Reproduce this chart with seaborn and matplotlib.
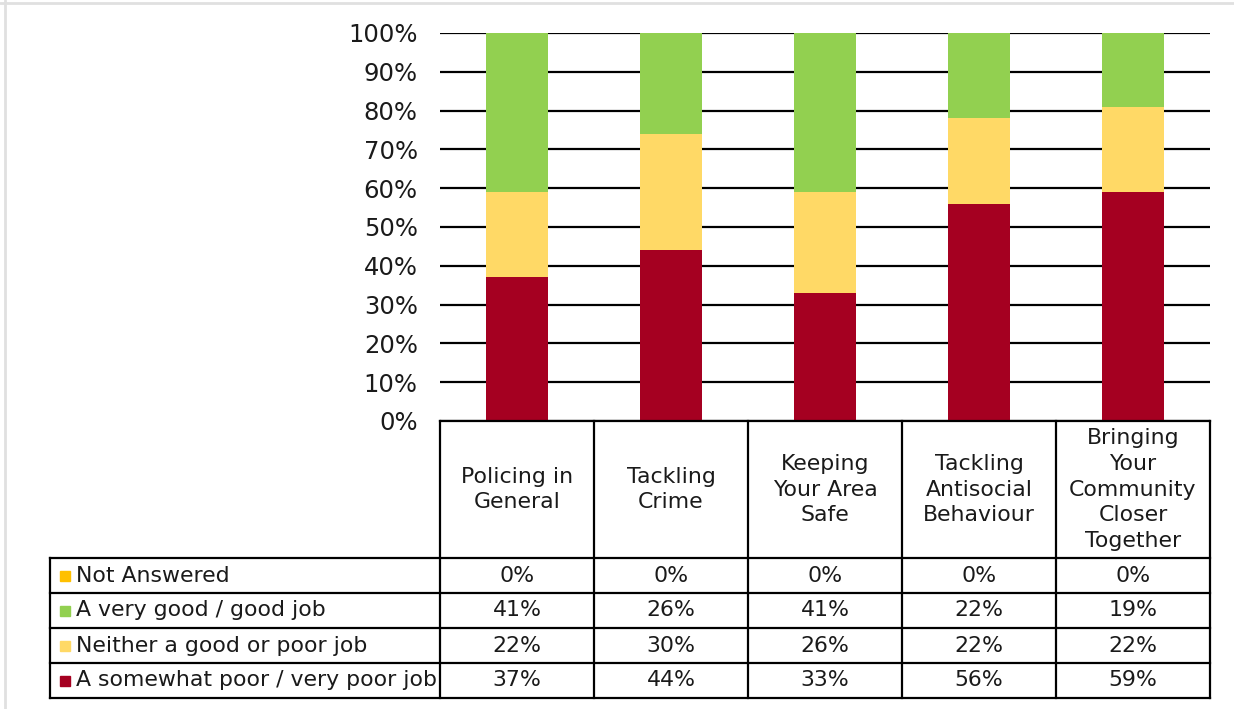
import matplotlib.pyplot as plt
import matplotlib.transforms as mtransforms
from matplotlib.lines import Line2D
import pandas as pd
import seaborn as sns

# data (percent)
categories = ["Policing in General", "Tackling Crime", "Keeping Your Area Safe",
              "Tackling Antisocial Behaviour", "Bringing Your Community Closer Together"]
header_labels = ["Policing in\nGeneral", "Tackling\nCrime", "Keeping\nYour Area\nSafe",
                 "Tackling\nAntisocial\nBehaviour", "Bringing\nYour\nCommunity\nCloser\nTogether"]
poor = [37, 44, 33, 56, 59]
neither = [22, 30, 26, 22, 22]
good = [41, 26, 41, 22, 19]
not_answered = [0, 0, 0, 0, 0]

# stacking order, bottom to top
series_names = ["A somewhat poor / very poor job", "Neither a good or poor job",
                "A very good / good job", "Not Answered"]
series_values = [poor, neither, good, not_answered]
series_colors = ["#A50021", "#FFD966", "#92D050", "#FFC000"]

sns.set_style("white")
plt.rcParams["font.family"] = ["DejaVu Sans"]

W, H = 1234, 709
fig = plt.figure(figsize=(W / 100, H / 100), dpi=100)
ax_l, ax_r, ax_t, ax_b = 440, 1210, 33, 421
ax = fig.add_axes([ax_l / W, 1 - ax_b / H, (ax_r - ax_l) / W, (ax_b - ax_t) / H])

# cumulative tops, drawn top layer first so lower layers cover them
df = pd.DataFrame({"category": categories})
running = [0] * len(categories)
tops = []
for vals in series_values:
    running = [r + v for r, v in zip(running, vals)]
    tops.append(running)
for name, top, col in reversed(list(zip(series_names, tops, series_colors))):
    df[name] = top
    sns.barplot(data=df, x="category", y=name, order=categories, color=col,
                saturation=1, width=0.4, linewidth=0, errorbar=None, ax=ax)

ax.set_xlim(-0.5, len(categories) - 0.5)
ax.set_ylim(0, 100)
ax.set_yticks(range(0, 101, 10))
ax.set_yticklabels([f"{v}%" for v in range(0, 101, 10)], fontsize=17.5, color="#1a1a1a")
ax.set_xticks([])
ax.set_xlabel("")
ax.set_ylabel("")
ax.tick_params(axis="y", length=0, pad=16)
ax.set_axisbelow(True)
ax.grid(axis="y", color="black", linewidth=1.6)
ax.grid(axis="x", visible=False)
for s in ax.spines.values():
    s.set_visible(False)

# data table under the plot
trans = mtransforms.blended_transform_factory(ax.transData, ax.transAxes)
ax_h = ax_b - ax_t
col_w = (ax_r - ax_l) / len(categories)
hh = 137 / ax_h
rh = 35 / ax_h
x_left = -0.5 - (ax_l - 50) / col_w
x_right = len(categories) - 0.5
n_rows = len(series_names)
bottom = -hh - n_rows * rh
lk = dict(color="black", linewidth=1.6, transform=trans, clip_on=False,
          solid_capstyle="projecting")

ax.plot([-0.5, x_right], [0, 0], **lk)
for r in range(n_rows + 1):
    y = -hh - r * rh
    ax.plot([x_left, x_right], [y, y], **lk)
for k in range(len(categories) + 1):
    x = -0.5 + k
    ax.plot([x, x], [0, bottom], **lk)
ax.plot([x_left, x_left], [-hh, bottom], **lk)

fs = 15.8
for i, lab in enumerate(header_labels):
    ax.text(i, -hh / 2, lab, transform=trans, ha="center", va="center",
            fontsize=fs, linespacing=1.36, color="#1a1a1a", clip_on=False)

table_rows = list(zip(series_names, series_values, series_colors))[::-1]
for r, (name, vals, col) in enumerate(table_rows):
    yc = -hh - (r + 0.5) * rh
    ax.plot([x_left + 15 / col_w], [yc], marker="s", markersize=7, color=col,
            transform=trans, clip_on=False, linestyle="none")
    ax.text(x_left + 26 / col_w, yc, name, transform=trans, ha="left", va="center",
            fontsize=fs, color="#1a1a1a", clip_on=False)
    for i, v in enumerate(vals):
        ax.text(i, yc, f"{v}%", transform=trans, ha="center", va="center",
                fontsize=fs, color="#1a1a1a", clip_on=False)

# faint screenshot frame
fig.add_artist(Line2D([0, 1], [1 - 3 / H, 1 - 3 / H], color="#e0e0e0", linewidth=2,
                      transform=fig.transFigure))
fig.add_artist(Line2D([5 / W, 5 / W], [0, 1], color="#e0e0e0", linewidth=2,
                      transform=fig.transFigure))

fig.savefig("out.png", dpi=100)
